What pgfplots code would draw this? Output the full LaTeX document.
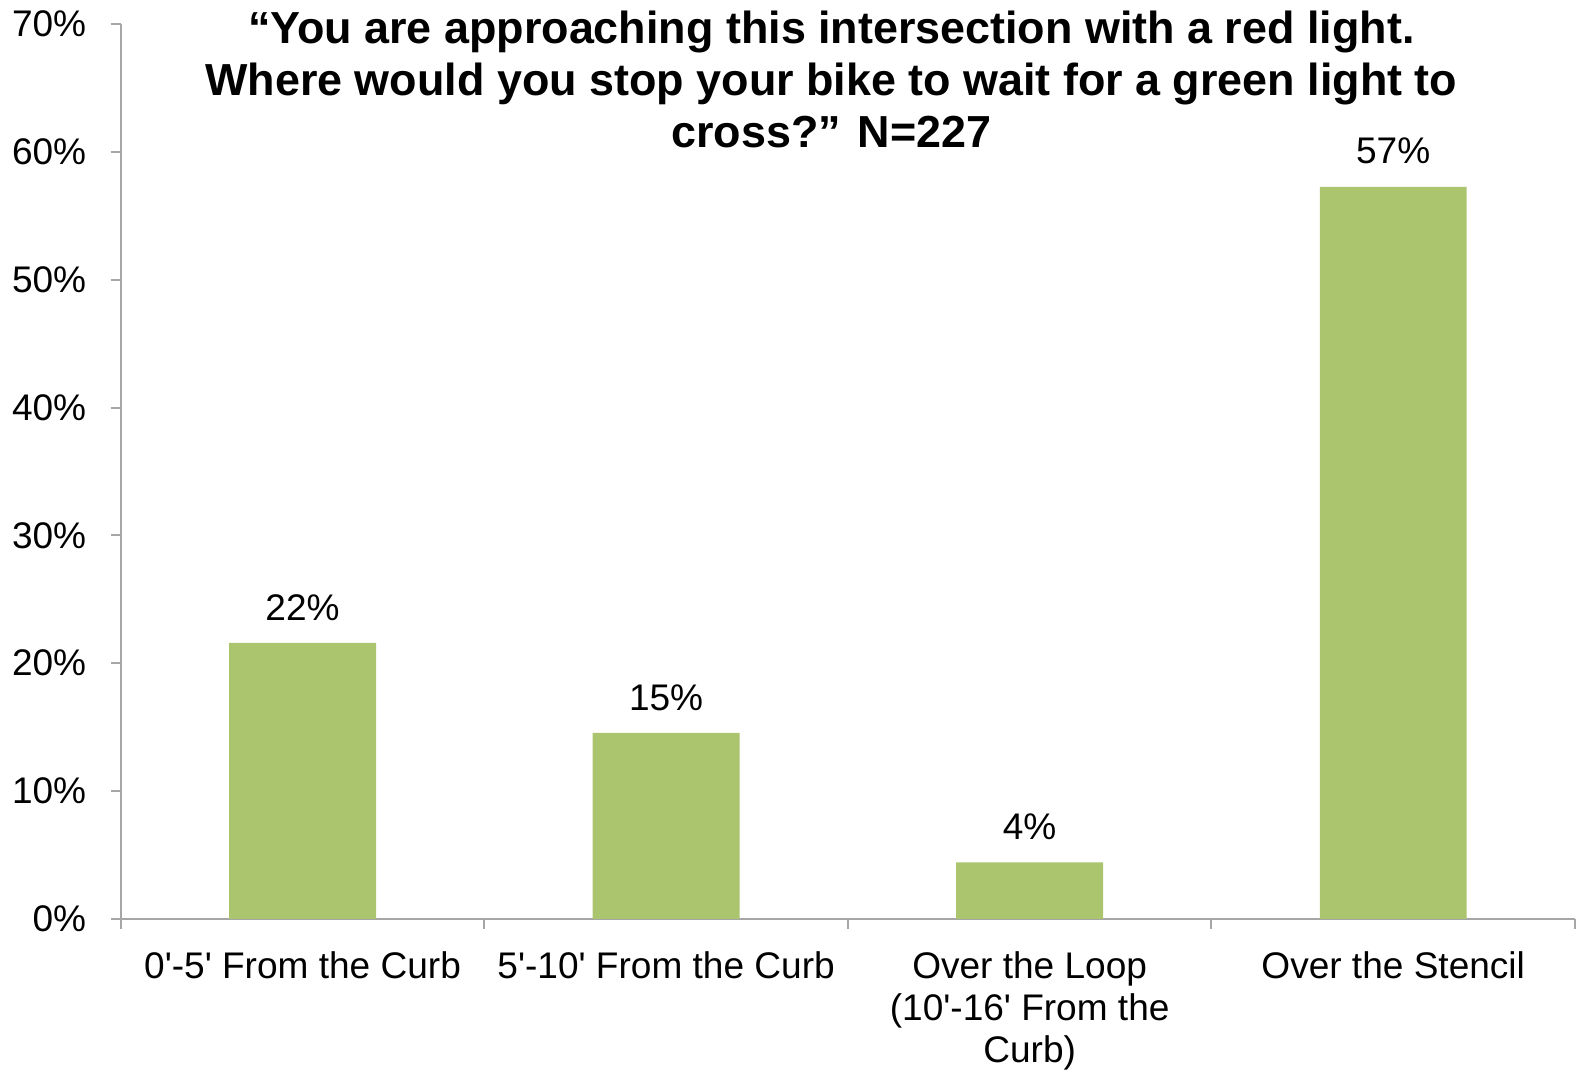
\documentclass[border=0pt]{standalone}
\usepackage{pgfplots}
\pgfplotsset{compat=1.18}
\usepackage{fontspec}
\setmainfont{Liberation Sans}
\usetikzlibrary{calc}
\definecolor{bargreen}{HTML}{ABC56E}
\definecolor{axisgray}{HTML}{A6A6A6}
\newcommand{\q}{\textquotesingle}
\begin{document}
\begin{tikzpicture}
\begin{axis}[
  name=ax,
  scale only axis,
  width=722.5bp, height=444.5bp,
  xmin=-0.5, xmax=3.5,
  ymin=0, ymax=70,
  axis lines*=left,
  axis line style={draw=axisgray, line width=1bp},
  clip=false,
  /pgf/number format/assume math mode=true,
  ytick={0,10,...,70},
  yticklabel={\pgfmathprintnumber{\tick}\%},
  yticklabel style={anchor=east, inner sep=0pt, xshift=-12bp},
  xtick={0,1,2,3},
  xticklabels={{0\q-5\q\ From the Curb},{5\q-10\q\ From the Curb},{Over the Loop\\(10\q-16\q\ From the\\Curb)},{Over the Stencil}},
  xticklabel style={align=center, anchor=north, inner sep=0pt, yshift=-11bp},
  minor xtick={-0.5,0.5,1.5,2.5,3.5},
  major x tick style={draw=none},
  tick align=outside,
  tick style={draw=axisgray, line width=1bp},
  major tick length=5bp,
  minor tick length=5bp,
  ticklabel style={font=\fontsize{18.4bp}{21bp}\selectfont},
  ybar,
  bar width=73bp,
  nodes near coords={\pgfmathprintnumber[fixed,precision=0]{\pgfplotspointmeta}\%},
  every node near coord/.append style={anchor=south, inner sep=0pt, yshift=11bp, font=\fontsize{18.4bp}{21bp}\selectfont},
]
\addplot[fill=bargreen, draw=none] coordinates {(0,21.59) (1,14.54) (2,4.41) (3,57.27)};
\node[anchor=north, align=center, inner sep=0pt, font=\fontsize{22.3bp}{26bp}\selectfont\bfseries]
  at (rel axis cs:0.4886,1.0157) {“You are approaching this intersection with a red light.\\Where would you stop your bike to wait for a green light to\\cross?” N=227};
\end{axis}
\pgfresetboundingbox
\path[use as bounding box] ($(ax.south west)+(-60bp,-77bp)$) rectangle ($(ax.south west)+(724bp,456.5bp)$);
\end{tikzpicture}
\end{document}
